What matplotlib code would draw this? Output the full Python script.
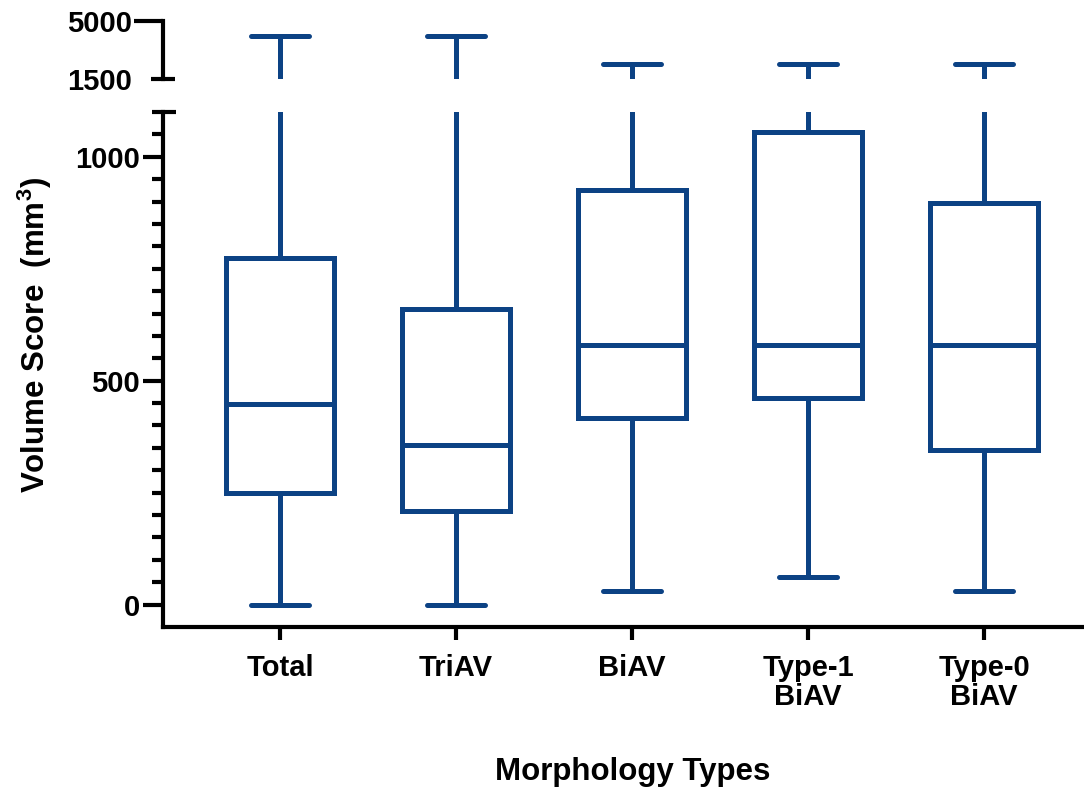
import matplotlib
matplotlib.use('Agg')
import matplotlib.pyplot as plt
from matplotlib.lines import Line2D

# ---------------- data ----------------
categories = ['Total', 'TriAV', 'BiAV', 'Type-1\nBiAV', 'Type-0\nBiAV']
whisker_low = [0, 0, 30, 62, 30]
q1 = [250, 210, 416, 461, 345]
median = [448, 357, 580, 580, 580]
q3 = [775, 661, 926, 1055, 897]
whisker_high = [4100, 4100, 2400, 2400, 2400]

top_ticks = [1500, 5000]
bottom_major_ticks = [0, 500, 1000]
bottom_minor_ticks = [50, 100, 150, 200, 250, 300, 350, 400, 450,
                      550, 600, 650, 700, 750, 800, 850, 900, 950, 1050]

# ---------------- style ----------------
plt.rcParams['font.family'] = ['Liberation Sans', 'DejaVu Sans']
plt.rcParams['font.weight'] = 'bold'
plt.rcParams['mathtext.fontset'] = 'custom'
plt.rcParams['mathtext.rm'] = 'Liberation Sans:bold'
plt.rcParams['mathtext.bf'] = 'Liberation Sans:bold'
plt.rcParams['mathtext.default'] = 'rm'

color = '#0c4284'
lw = 3.6
spine_lw = 3.0
tick_fs = 21
W, H = 1084, 792

stats = [dict(label=c, whislo=lo, q1=a, med=m, q3=b, whishi=hi, fliers=[])
         for c, lo, a, m, b, hi in zip(categories, whisker_low, q1, median, q3, whisker_high)]
positions = list(range(1, len(categories) + 1))

fig = plt.figure(figsize=(W / 100, H / 100), dpi=100)
ax_top = fig.add_axes([163 / W, 1 - 79 / H, 1 - 163 / W, 58 / H])
ax_bot = fig.add_axes([163 / W, 1 - 627 / H, 1 - 163 / W, 515 / H])

for ax in (ax_top, ax_bot):
    ax.bxp(stats, positions=positions, widths=0.61, capwidths=0.33,
           showfliers=False, manage_ticks=False,
           boxprops=dict(color=color, lw=lw, solid_joinstyle='miter'),
           whiskerprops=dict(color=color, lw=lw),
           capprops=dict(color=color, lw=lw, solid_capstyle='round'),
           medianprops=dict(color=color, lw=lw))
    ax.set_xlim(0.335, 5.568)
    ax.spines['top'].set_visible(False)
    ax.spines['right'].set_visible(False)
    ax.spines['left'].set_linewidth(spine_lw)
    ax.spines['bottom'].set_linewidth(spine_lw)
    ax.patch.set_alpha(0)

# top segment
ax_top.set_ylim(1500, 5000)
ax_top.spines['bottom'].set_visible(False)
ax_top.set_xticks([])
ax_top.set_yticks([5000], labels=['5000'])
ax_top.set_yticks([1500], labels=['1500'], minor=True)
ax_top.tick_params(axis='y', which='major', direction='out', length=21, width=spine_lw,
                   pad=1, labelsize=tick_fs)
ax_top.tick_params(axis='y', which='minor', direction='inout', length=17, width=spine_lw,
                   pad=14, labelsize=tick_fs)

# bottom segment
ax_bot.set_ylim(-50, 1100)
ax_bot.set_yticks(bottom_major_ticks, labels=[str(v) for v in bottom_major_ticks])
ax_bot.set_yticks(bottom_minor_ticks, minor=True)
ax_bot.tick_params(axis='y', which='major', direction='out', length=14.5, width=spine_lw,
                   pad=2, labelsize=tick_fs)
ax_bot.tick_params(axis='y', which='minor', direction='out', length=8, width=spine_lw)
ax_bot.set_xticks(positions, labels=categories)
ax_bot.tick_params(axis='x', which='major', direction='out', length=9.5, width=spine_lw,
                   pad=10, labelsize=tick_fs)
for lab in ax_bot.get_xticklabels():
    lab.set_linespacing(1.05)

# break cap at top of lower axis
fig.add_artist(Line2D([152 / W, 176 / W], [1 - 112 / H, 1 - 112 / H],
                      color='black', lw=spine_lw, solid_capstyle='butt'))

fig.text(633 / W, 1 - 772 / H, 'Morphology Types', ha='center', va='center',
         fontsize=22.5, fontweight='bold')
fig.text(35 / W, 1 - 335 / H, 'Volume Score  (mm$^{3}$)', ha='center', va='center',
         rotation=90, fontsize=22.5, fontweight='bold')

fig.savefig('out.png', dpi=100)
